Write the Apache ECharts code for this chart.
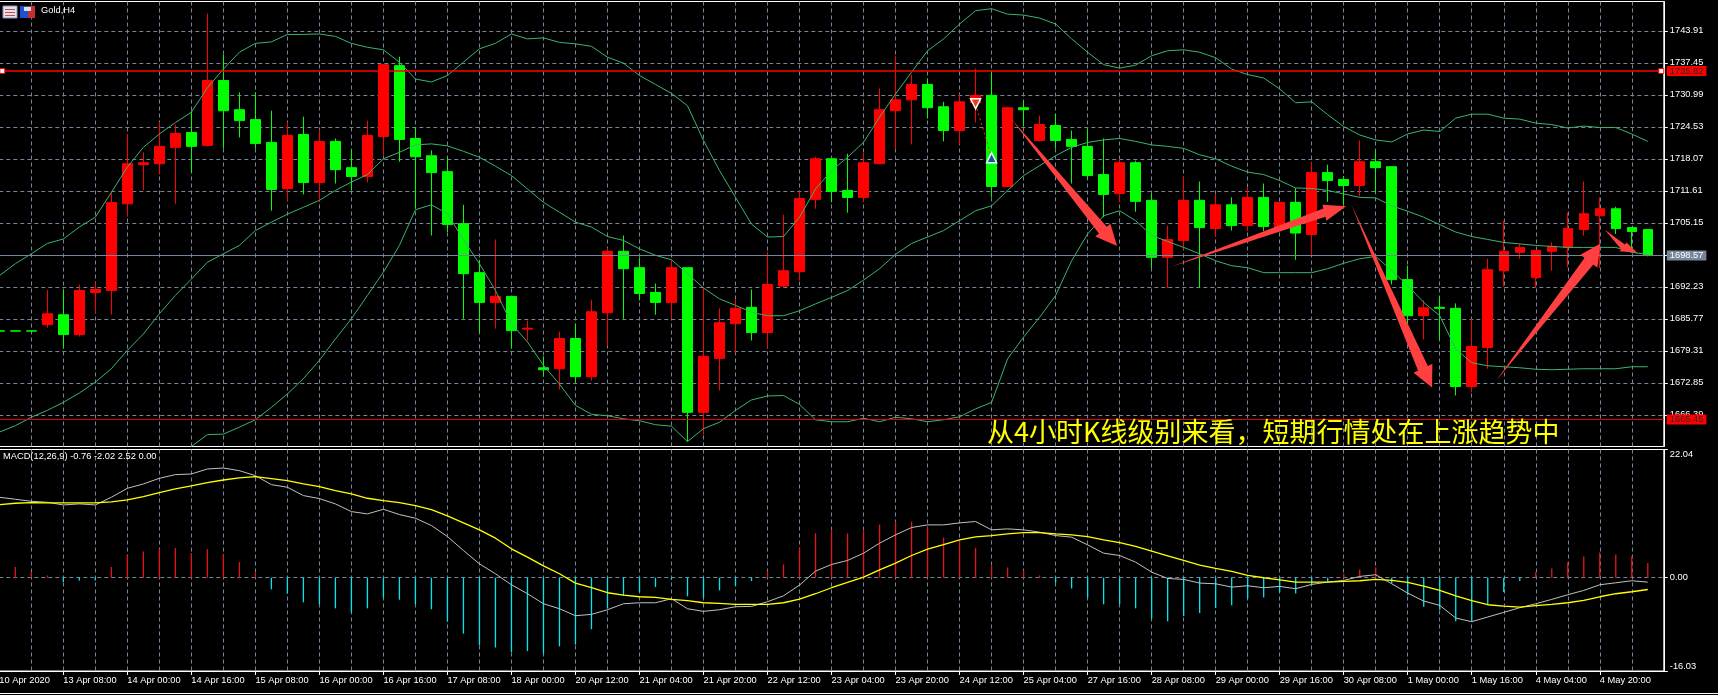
<!DOCTYPE html>
<html>
<head>
<meta charset="utf-8">
<style>html,body{margin:0;padding:0;background:#000;overflow:hidden}#c{width:1718px;height:695px}</style>
<script src="https://cdn.jsdelivr.net/npm/echarts@6/dist/echarts.min.js"></script>
</head>
<body>
<div id="c"></div>
<script>
const tickLabels = ['10 Apr 2020','13 Apr 08:00','14 Apr 00:00','14 Apr 16:00','15 Apr 08:00','16 Apr 00:00','16 Apr 16:00','17 Apr 08:00','18 Apr 00:00','20 Apr 12:00','21 Apr 04:00','21 Apr 20:00','22 Apr 12:00','23 Apr 04:00','23 Apr 20:00','24 Apr 12:00','25 Apr 04:00','27 Apr 16:00','28 Apr 08:00','29 Apr 00:00','29 Apr 16:00','30 Apr 08:00','1 May 00:00','1 May 16:00','4 May 04:00','4 May 20:00'];
const priceTicks = [1666.39,1672.85,1679.31,1685.77,1692.23,1698.69,1705.15,1711.61,1718.07,1724.53,1730.99,1737.45,1743.91];
const macdTicks = [-16.03,0,22.04];

const opens = [1683.35,1683.35,1683.35,1684.6,1686.6,1682.6,1691.1,1691.5,1709.0,1716.9,1717.1,1720.4,1723.4,1720.8,1733.9,1728.0,1726.0,1721.4,1712.1,1723.0,1713.3,1721.6,1716.3,1714.5,1722.6,1736.9,1722.2,1718.7,1715.5,1705.0,1695.1,1689.1,1690.3,1683.7,1675.9,1675.7,1681.8,1674.1,1687.0,1699.4,1696.1,1691.1,1689.1,1696.1,1666.9,1677.8,1684.8,1688.1,1683.0,1692.4,1695.3,1709.9,1718.1,1711.7,1710.3,1717.1,1727.8,1730.0,1733.1,1728.6,1723.8,1729.4,1730.9,1712.5,1728.4,1721.8,1724.8,1722.0,1720.6,1714.9,1711.1,1717.3,1709.7,1698.2,1701.6,1709.7,1704.0,1708.8,1704.6,1710.3,1704.0,1709.3,1702.8,1715.3,1713.9,1712.7,1717.5,1716.5,1693.7,1686.4,1688.1,1687.9,1672.1,1680.0,1695.5,1699.2,1694.1,1699.4,1700.2,1703.8,1706.6,1708.0,1704.2,1703.8];
const closes = [1683.3,1683.3,1683.3,1686.8,1682.6,1691.5,1691.7,1709.25,1717.1,1717.3,1720.6,1723.2,1720.6,1733.9,1727.8,1725.8,1721.2,1711.9,1722.8,1713.3,1721.6,1715.9,1714.5,1722.8,1737.1,1722.0,1718.5,1715.3,1704.8,1694.9,1689.1,1690.3,1683.4,1683.9,1675.5,1681.8,1674.1,1687.2,1699.4,1695.9,1690.9,1689.1,1696.1,1666.9,1678.2,1685.0,1687.9,1683.0,1692.7,1695.5,1710.05,1718.1,1711.5,1710.3,1717.3,1728.0,1730.0,1733.1,1728.4,1723.8,1729.6,1730.9,1712.5,1728.4,1728.0,1725.0,1721.8,1720.6,1714.7,1710.9,1717.3,1709.5,1698.2,1701.8,1709.7,1704.2,1708.8,1704.6,1710.3,1704.4,1709.3,1703.1,1715.3,1713.7,1712.7,1717.5,1716.3,1693.7,1686.4,1688.0,1687.9,1672.1,1680.2,1695.7,1699.4,1700.2,1699.6,1700.4,1704.0,1707.0,1708.0,1704.0,1703.4,1698.57];
const lows = [1683.3,1683.3,1683.3,1684.0,1679.8,1682.2,1687.0,1686.6,1706.4,1711.8,1714.9,1709.0,1715.3,1720.6,1720.2,1722.4,1720.2,1707.6,1709.6,1710.9,1709.3,1713.1,1711.7,1713.3,1718.9,1717.5,1708.0,1702.6,1703.3,1685.8,1683.0,1683.8,1679.8,1681.4,1674.1,1671.5,1672.9,1673.3,1680.3,1685.8,1689.5,1686.6,1685.8,1661.0,1662.4,1671.3,1679.0,1681.4,1680.0,1692.2,1693.5,1708.0,1709.3,1707.2,1709.3,1717.0,1720.2,1721.0,1726.2,1721.6,1721.0,1725.4,1710.3,1712.4,1724.6,1721.6,1720.2,1713.1,1714.1,1706.3,1709.3,1707.4,1696.0,1692.0,1699.8,1692.1,1702.3,1703.6,1703.5,1703.5,1703.5,1697.7,1698.6,1709.4,1708.8,1710.5,1711.2,1692.7,1684.8,1681.6,1681.6,1670.3,1670.9,1675.7,1692.3,1697.9,1692.0,1695.5,1696.2,1702.6,1696.0,1702.9,1699.2,1698.4];
const highs = [1683.35,1683.35,1683.35,1691.6,1691.6,1692.7,1693.1,1711.5,1723.1,1719.4,1725.5,1725.0,1727.8,1747.4,1739.1,1731.5,1731.5,1727.8,1725.5,1726.6,1724.0,1722.2,1719.9,1725.8,1737.2,1738.7,1724.5,1719.8,1718.5,1708.8,1697.7,1701.8,1690.3,1685.4,1678.2,1683.2,1684.8,1689.6,1700.1,1702.6,1698.1,1692.9,1697.5,1696.1,1692.2,1687.9,1689.8,1691.7,1699.3,1706.8,1711.5,1718.5,1718.1,1719.1,1719.3,1732.3,1738.9,1735.1,1734.3,1729.6,1731.1,1736.3,1735.8,1728.6,1729.8,1726.8,1727.2,1723.8,1724.1,1722.2,1718.1,1717.7,1711.0,1704.6,1714.6,1713.5,1711.0,1710.3,1712.3,1713.1,1709.3,1712.2,1717.5,1716.9,1714.6,1721.8,1719.7,1716.5,1696.5,1689.5,1690.3,1688.9,1685.8,1697.9,1705.6,1700.9,1699.6,1701.2,1707.2,1713.5,1710.3,1708.4,1704.2,1703.9];

const bollUpper = [1694.5,1696.9,1698.9,1701.0,1701.9,1704.3,1706.3,1711.3,1716.4,1720.4,1723.1,1725.4,1727.5,1732.4,1736.2,1739.6,1741.4,1741.7,1743.2,1743.2,1743.3,1742.8,1741.4,1740.6,1740.1,1737.6,1734.2,1733.6,1734.9,1737.6,1740.3,1741.4,1743.3,1742.3,1742.5,1741.6,1741.3,1740.8,1738.6,1737.4,1734.9,1733.1,1731.3,1728.8,1721.8,1715.7,1710.3,1704.9,1702.3,1702.4,1706.3,1712.0,1715.7,1718.4,1721.4,1726.5,1731.2,1735.6,1739.9,1742.3,1745.3,1748.0,1748.4,1747.3,1747.1,1746.5,1745.3,1742.3,1739.6,1737.1,1736.4,1737.0,1738.9,1739.9,1740.1,1739.6,1738.5,1736.2,1735.1,1734.4,1732.2,1729.4,1729.6,1727.0,1724.6,1722.9,1721.9,1721.5,1723.1,1723.9,1723.6,1726.3,1727.1,1727.1,1726.3,1726.1,1725.3,1725.0,1724.3,1724.7,1724.4,1724.4,1723.1,1721.6];
const bollMiddle = [1662.9,1664.2,1665.9,1667.3,1668.9,1670.8,1673.0,1675.7,1679.4,1682.7,1686.8,1690.5,1693.8,1697.2,1698.9,1700.6,1703.6,1705.3,1706.9,1708.3,1709.7,1711.7,1713.4,1714.9,1718.1,1719.4,1720.9,1721.1,1720.7,1719.6,1718.4,1716.6,1714.7,1712.0,1709.3,1707.3,1705.3,1704.3,1702.4,1701.6,1699.9,1698.6,1697.7,1694.9,1692.0,1689.8,1688.5,1687.1,1686.4,1686.4,1687.4,1688.8,1690.1,1691.5,1693.6,1695.9,1698.8,1701.0,1702.3,1703.6,1705.6,1707.6,1708.6,1711.7,1714.7,1716.7,1718.7,1720.4,1721.4,1721.9,1722.2,1721.6,1720.9,1720.6,1720.2,1718.9,1718.1,1716.6,1715.4,1714.9,1713.7,1712.2,1712.1,1711.7,1711.0,1710.3,1710.2,1708.6,1707.5,1706.3,1704.8,1703.3,1702.4,1701.8,1701.2,1700.9,1700.6,1700.4,1700.2,1700.2,1700.2,1700.2,1699.2,1698.8];
const bollLower = [null,null,null,null,null,null,null,null,null,null,null,null,1660.0,1662.4,1662.5,1663.9,1665.4,1667.9,1670.6,1673.7,1677.4,1681.7,1685.8,1690.5,1695.2,1700.6,1707.8,1708.8,1707.0,1701.7,1696.9,1691.5,1684.8,1681.1,1676.4,1672.6,1668.3,1666.5,1666.2,1665.6,1665.2,1664.4,1664.1,1661.0,1663.6,1664.9,1667.3,1669.4,1670.2,1670.3,1668.5,1665.4,1665.0,1665.0,1665.7,1665.0,1665.9,1665.6,1665.0,1665.4,1666.0,1667.6,1668.9,1677.7,1682.1,1686.1,1690.5,1697.5,1702.9,1706.6,1707.6,1705.6,1702.6,1701.4,1700.2,1698.9,1697.5,1696.5,1696.1,1695.1,1695.1,1695.1,1695.1,1695.9,1697.0,1697.9,1698.4,1695.5,1692.5,1689.1,1686.4,1679.7,1676.9,1676.3,1676.1,1675.9,1675.6,1675.5,1675.6,1675.7,1675.7,1675.7,1676.1,1676.1];

const macdHist = [null,1.83,0.97,0.4,-0.74,-0.46,-0.46,1.83,3.83,4.52,4.92,5.09,4.23,4.92,4.12,2.69,0.86,-2.0,-2.74,-4.23,-4.57,-5.26,-5.95,-5.26,-3.43,-3.77,-4.57,-5.43,-7.55,-9.6,-11.6,-12.0,-12.8,-12.6,-13.0,-11.8,-11.5,-8.85,-5.3,-3.1,-2.46,-1.6,-0.34,-3.2,-3.49,-2.17,-1.37,-0.57,1.09,2.29,5.14,7.66,8.1,7.6,8.1,9.14,9.66,9.66,8.68,6.9,6.28,5.14,2.05,1.77,1.25,0.4,-0.86,-1.84,-3.43,-4.57,-4.57,-5.26,-7.0,-7.5,-6.6,-6.07,-5.2,-4.75,-3.55,-3.38,-2.5,-2.7,-1.15,-0.7,0.68,1.42,1.82,-1.0,-3.0,-5.0,-5.5,-7.5,-7.5,-4.6,-2.46,-0.57,0.97,1.6,2.68,3.65,4.34,4.0,3.7,2.52];
const macdMain = [13.83,13.49,13.14,12.97,12.51,12.69,12.51,13.83,15.37,16.12,17.09,17.72,17.83,18.69,18.86,18.4,17.55,16.0,15.55,14.12,13.6,12.69,11.37,10.97,11.77,10.86,10.23,8.97,7.08,4.68,2.39,0.68,-1.21,-2.75,-4.47,-5.33,-6.53,-6.3,-5.5,-4.47,-4.3,-4.3,-3.61,-5.33,-5.78,-5.5,-4.98,-4.93,-4.12,-3.1,-1.27,1.14,2.28,2.97,4.22,5.94,7.37,8.63,9.08,9.08,9.43,9.66,8.23,8.4,8.23,7.83,7.25,6.97,5.65,4.22,3.82,2.68,0.96,-0.12,-0.29,-0.92,-1.04,-1.61,-1.38,-1.72,-1.49,-1.89,-1.15,-0.75,-0.46,0.22,0.52,-1.04,-2.64,-4.01,-4.75,-6.93,-7.55,-6.75,-5.95,-5.15,-4.47,-3.72,-2.92,-2.18,-1.21,-0.87,-0.52,-0.76];
const macdSignal = [12.57,12.8,12.9,12.86,12.86,12.86,12.86,13.03,13.37,13.94,14.63,15.26,15.77,16.35,16.8,17.15,17.37,17.03,16.69,16.12,15.66,14.97,14.4,13.66,13.26,12.9,12.4,11.71,10.63,9.43,8.23,6.8,4.97,3.54,2.05,0.68,-0.92,-1.72,-2.58,-3.0,-3.27,-3.38,-3.72,-3.95,-4.3,-4.41,-4.58,-4.58,-4.58,-4.3,-3.67,-2.75,-1.72,-0.81,0.11,1.36,2.51,3.82,4.91,5.71,6.51,7.02,7.25,7.54,7.77,7.77,7.54,7.37,7.08,6.51,6.05,5.37,4.57,3.77,2.97,2.16,1.59,1.08,0.39,0,-0.35,-0.75,-0.75,-0.75,-0.64,-0.52,-0.29,-0.47,-0.81,-1.44,-2.18,-3.1,-3.95,-4.64,-4.87,-5.04,-4.81,-4.58,-4.3,-3.9,-3.27,-2.75,-2.41,-2.02];

const resistance = 1735.82, support = 1665.45, lastPrice = 1698.57;
const tradeOpen = [61,1729.2], tradeClose = [62,1718.3];
// annotation arrows, in bar index / price: tail, tip, wing A, wing B
const arrowTails = [[63.17,1726.4],[73.23,1696.3],[84.48,1708.8],[93.52,1673.3],[100.3,1703.8]];
const arrowTips  = [[69.84,1700.5],[84.15,1708.5],[89.52,1671.9],[100.04,1701.0],[102.34,1699.1]];
const arrowWingA = [[68.48,1702.4],[82.67,1708.8],[88.36,1674.9],[98.79,1698.7],[101.23,1699.4]];
const arrowWingB = [[69.42,1705.0],[82.92,1705.6],[89.54,1676.7],[99.85,1696.1],[101.67,1701.2]];
const captionText = '从4小时K线级别来看，短期行情处在上涨趋势中';
const macdCaption = 'MACD(12,26,9) -0.76 -2.02 2.52 0.00';
const symbolCaption = 'Gold,H4';

const categories = [];
for (let i = 0; i < 105; i++) categories.push(i % 4 === 0 && tickLabels[i / 4] ? tickLabels[i / 4] : 'bar' + i);
const ohlc = opens.map((o, i) => [o, closes[i], lows[i], highs[i]]);

const FONT = '"Liberation Sans", Arial, sans-serif';
const FS = 9.3;
const GRIDC = '#76859a';
const everyTwo = (i) => i % 2 === 0;
const everyFour = (i) => i % 4 === 0;
const dash = {color: GRIDC, width: 1, type: [4, 3]};

function xAxisFor(gridIndex, withLabels) {
  return {
    type: 'category', gridIndex, data: categories, boundaryGap: false,
    axisLine: {show: withLabels, onZero: false, lineStyle: {color: '#fff'}},
    axisTick: {show: withLabels, interval: everyFour, length: 4, lineStyle: {color: '#fff'}},
    axisLabel: {show: withLabels, interval: everyFour, align: 'left', margin: 5, color: '#fff', fontFamily: FONT, fontSize: FS,
      formatter: v => v.startsWith('bar') ? '' : v, showMinLabel: true, showMaxLabel: false},
    splitLine: {show: true, interval: everyTwo, lineStyle: dash, showMinLine: false, showMaxLine: false}
  };
}
function lineSeries(name, data, color, xi, yi, width) {
  return {type: 'line', name, data, xAxisIndex: xi, yAxisIndex: yi, showSymbol: false, symbol: 'none',
    lineStyle: {color, width}, itemStyle: {color}, silent: true, animation: false, z: 4};
}
function priceLabel(value, color, bg) {
  return {show: true, position: 'end', distance: 3, formatter: value.toFixed(2), color, backgroundColor: bg, padding: [1, 3, 0, 3], fontFamily: FONT, fontSize: FS};
}

const chart = echarts.init(document.getElementById('c'), null, {width: 1718, height: 695, renderer: 'canvas'});
chart.setOption({
  animation: false,
  backgroundColor: '#000',
  title: [
    {text: symbolCaption, left: 41, top: 6, padding: 0, textStyle: {color: '#fff', fontFamily: FONT, fontSize: FS, fontWeight: 'normal'}},
    {text: macdCaption, left: 3, top: 452, padding: 0, textStyle: {color: '#fff', fontFamily: FONT, fontSize: FS, fontWeight: 'normal'}}
  ],
  grid: [
    {left: -0.7, top: 1.5, width: 1664.5, height: 445, show: true, backgroundColor: '#000', borderColor: '#fff', borderWidth: 1, containLabel: false, outerBoundsMode: 'none'},
    {left: -0.7, top: 449.5, width: 1664.5, height: 221.5, show: true, backgroundColor: '#000', borderColor: '#fff', borderWidth: 1, containLabel: false, outerBoundsMode: 'none'}
  ],
  xAxis: [xAxisFor(0, false), xAxisFor(1, true)],
  yAxis: [
    {type: 'value', gridIndex: 0, position: 'right', min: 1660, max: 1749.85,
      axisLine: {show: true, lineStyle: {color: '#fff'}},
      axisTick: {show: true, length: 4, customValues: priceTicks, lineStyle: {color: '#fff'}},
      axisLabel: {customValues: priceTicks, margin: 6, color: '#fff', fontFamily: FONT, fontSize: FS, formatter: v => v.toFixed(2)},
      splitLine: {show: true, lineStyle: dash}},
    {type: 'value', gridIndex: 1, position: 'right', min: -16.03, max: 22.04,
      axisLine: {show: true, lineStyle: {color: '#fff'}},
      axisTick: {show: true, length: 4, customValues: macdTicks, lineStyle: {color: '#fff'}},
      axisLabel: {customValues: macdTicks, margin: 6, color: '#fff', fontFamily: FONT, fontSize: FS, formatter: v => v.toFixed(2),
        verticalAlignMinLabel: 'bottom', verticalAlignMaxLabel: 'top'},
      splitLine: {show: true, lineStyle: dash, showMinLine: false, showMaxLine: false}}
  ],
  series: [
    {type: 'candlestick', name: 'Gold,H4', xAxisIndex: 0, yAxisIndex: 0, data: ohlc, barWidth: 10, clip: true, silent: true, z: 3,
      itemStyle: {color: '#ff0000', color0: '#00ff00', borderColor: '#ff0000', borderColor0: '#00ff00', borderWidth: 1},
      markLine: {
        silent: true, symbol: 'none', animation: false, precision: 2,
        data: [
          {yAxis: resistance, lineStyle: {color: '#ff0000', width: 1.5, type: 'solid'}, label: priceLabel(resistance, '#3a2020', '#ff0000')},
          {yAxis: lastPrice, lineStyle: {color: '#76859a', width: 1.2, type: 'solid'}, label: priceLabel(lastPrice, '#fff', '#76859a')},
          {yAxis: support, lineStyle: {color: '#ff0000', width: 0.9, type: 'solid'}, label: priceLabel(support, '#3a2020', '#ff0000')},
          [{coord: tradeOpen, lineStyle: {color: '#ff3000', width: 1, type: [2, 3]}}, {coord: tradeClose}]
        ]
      },
      markPoint: {
        silent: true, animation: false,
        data: [
          {coord: [0, resistance], symbol: 'rect', symbolSize: 5, symbolOffset: [3, 0], itemStyle: {color: '#fff', borderColor: '#ff0000', borderWidth: 1}, label: {show: false}},
          {coord: [104, resistance], symbol: 'rect', symbolSize: 5, symbolOffset: [-2.5, 0], itemStyle: {color: '#fff', borderColor: '#ff0000', borderWidth: 1}, label: {show: false}},
          {coord: tradeOpen, symbol: 'triangle', symbolRotate: 180, symbolSize: 10, itemStyle: {color: '#e0401a', borderColor: '#fff', borderWidth: 1.5}, label: {show: false}},
          {coord: tradeClose, symbol: 'triangle', symbolSize: 10, itemStyle: {color: '#0a5aa8', borderColor: '#fff', borderWidth: 1.5}, label: {show: false}}
        ]
      }
    },
    lineSeries('Bollinger upper', bollUpper, '#3cb371', 0, 0, 1),
    lineSeries('Bollinger middle', bollMiddle, '#3cb371', 0, 0, 1),
    lineSeries('Bollinger lower', bollLower, '#3cb371', 0, 0, 1),
    {type: 'custom', name: 'arrows', xAxisIndex: 0, yAxisIndex: 0, z: 6, silent: true, clip: false,
      data: arrowTails.map(a => [Math.round(a[0]), a[1]]),
      renderItem(params, api) {
        const at = (pt) => {
          const f = Math.floor(pt[0]);
          const a = api.coord([f, pt[1]]), b = api.coord([f + 1, pt[1]]);
          return [a[0] + (b[0] - a[0]) * (pt[0] - f), a[1]];
        };
        const i = params.dataIndex;
        const tail = at(arrowTails[i]), tip = at(arrowTips[i]), wa = at(arrowWingA[i]), wb = at(arrowWingB[i]);
        const mid = [(wa[0] + wb[0]) / 2, (wa[1] + wb[1]) / 2];
        const neck = (w) => [mid[0] + (w[0] - mid[0]) * 0.52, mid[1] + (w[1] - mid[1]) * 0.52];
        return {type: 'polygon', shape: {points: [tail, neck(wa), wa, tip, wb, neck(wb)]}, style: {fill: '#ff4040'}};
      }
    },
    {type: 'bar', name: 'MACD histogram', xAxisIndex: 1, yAxisIndex: 1, data: macdHist, barWidth: 1.3, silent: true, z: 3,
      itemStyle: {color: p => p.value >= 0 ? '#e8141c' : '#00e6f0'}},
    lineSeries('MACD', macdMain, '#c0c0c0', 1, 1, 1),
    lineSeries('Signal', macdSignal, '#ffff00', 1, 1, 1.3)
  ],
  graphic: [
    {type: 'text', left: 987, top: 418, z: 100, silent: true, style: {text: captionText, fill: '#ffff00', font: '27px "Noto Sans CJK SC"'}},
    {type: 'rect', shape: {x: 3, y: 6, width: 14, height: 12}, style: {fill: '#e8e0e8', stroke: '#9090c0'}, z: 100, silent: true},
    {type: 'rect', shape: {x: 5, y: 9, width: 10, height: 1}, style: {fill: '#c05050'}, z: 101, silent: true},
    {type: 'rect', shape: {x: 5, y: 12, width: 10, height: 1}, style: {fill: '#c05050'}, z: 101, silent: true},
    {type: 'rect', shape: {x: 5, y: 15, width: 10, height: 1}, style: {fill: '#c05050'}, z: 101, silent: true},
    {type: 'rect', shape: {x: 20, y: 6, width: 8, height: 12}, style: {fill: '#2050d0'}, z: 100, silent: true},
    {type: 'rect', shape: {x: 28, y: 6, width: 7, height: 12}, style: {fill: '#c03030'}, z: 100, silent: true},
    {type: 'rect', shape: {x: 24, y: 7, width: 7, height: 4}, style: {fill: '#e0e0e0'}, z: 101, silent: true},
    {type: 'rect', shape: {x: 0, y: 693, width: 1718, height: 1}, style: {fill: '#fff'}, z: 100, silent: true}
  ]
});
</script>
</body>
</html>
